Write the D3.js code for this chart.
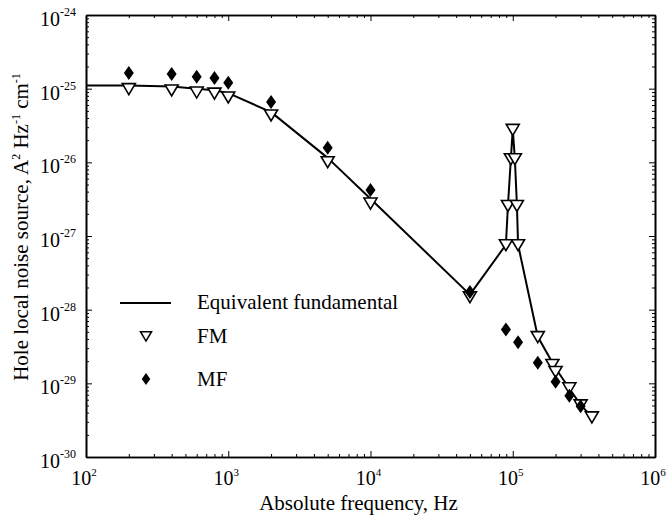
<!DOCTYPE html>
<html>
<head>
<meta charset="utf-8">
<title>Hole local noise source</title>
<style>
  body { margin: 0; background: #fff; overflow: hidden; }
  svg { display: block; }
</style>
</head>
<body>
<svg id="main" width="666" height="519" font-family="'Liberation Serif', 'DejaVu Serif', serif"></svg>
<script src="https://cdn.jsdelivr.net/npm/d3@7.8.5/dist/d3.min.js"></script>
<script>
  const xTickExps = [2, 3, 4, 5, 6]
  const yTickExps = [-30, -29, -28, -27, -26, -25, -24]

  // Equivalent fundamental (solid line)
  const lineFreq = [100, 200, 400, 600, 800, 1000, 2000, 5000, 1e4, 5e4,
    8.95e4, 9.25e4, 9.7e4, 1.0e5, 1.035e5, 1.07e5, 1.09e5, 1.5e5, 2e5, 2.5e5, 3e5, 3.6e5]
  const lineVal = [1.1e-25, 1.1e-25, 1.07e-25, 1.0e-25, 9.5e-26, 8.7e-26, 4.8e-26, 1.15e-26, 3.2e-27, 1.6e-28,
    7.6e-28, 2.6e-27, 1.12e-26, 2.8e-26, 1.12e-26, 2.6e-27, 7.6e-28, 4.3e-29, 1.6e-29, 8.5e-30, 5.1e-30, 3.5e-30]

  // FM (open down triangles)
  const fmFreq = [200, 400, 600, 800, 1000, 2000, 5000, 1e4, 5e4,
    8.95e4, 9.25e4, 9.7e4, 1.0e5, 1.035e5, 1.07e5, 1.09e5, 1.5e5, 1.9e5, 2e5, 2.5e5, 3e5, 3.6e5]
  const fmVal = [1.0e-25, 9.6e-26, 9.0e-26, 8.7e-26, 7.7e-26, 4.4e-26, 1.02e-26, 2.8e-27, 1.5e-28,
    7.6e-28, 2.6e-27, 1.12e-26, 2.8e-26, 1.12e-26, 2.6e-27, 7.6e-28, 4.3e-29, 1.8e-29, 1.45e-29, 8.7e-30, 5.1e-30, 3.5e-30]

  // MF (filled diamonds)
  const mfFreq = [200, 400, 600, 800, 1000, 2000, 5000, 1e4, 5e4, 8.95e4, 1.09e5, 1.5e5, 2e5, 2.5e5, 3e5]
  const mfVal = [1.63e-25, 1.58e-25, 1.45e-25, 1.4e-25, 1.2e-25, 6.6e-26, 1.58e-26, 4.2e-27, 1.74e-28,
    5.4e-29, 3.6e-29, 1.9e-29, 1.05e-29, 6.8e-30, 4.9e-30]

  const legendLabels = ['Equivalent fundamental', 'FM', 'MF']

  const svg = d3.select('#main')
  const margin = { top: 15, right: 11, bottom: 62, left: 86 }
  const width = +svg.attr('width')
  const height = +svg.attr('height')
  const innerWidth = width - margin.left - margin.right
  const innerHeight = height - margin.top - margin.bottom

  const g = svg.append('g').attr('transform', `translate(${margin.left}, ${margin.top})`)

  const xScale = d3.scaleLog().domain([1e2, 1e6]).range([0, innerWidth])
  const yScale = d3.scaleLog().domain([1e-30, 1e-24]).range([innerHeight, 0])

  const minorTicks = (lo, hi) => {
    const out = []
    for (let e = lo; e < hi; e++) for (let m = 2; m <= 9; m++) out.push(m * Math.pow(10, e))
    return out
  }
  const xMajor = xTickExps.map(e => Math.pow(10, e))
  const yMajor = yTickExps.map(e => Math.pow(10, e))
  const xMinor = minorTicks(2, 6)
  const yMinor = minorTicks(-30, -24)

  const styleAxis = sel => {
    sel.select('.domain').attr('stroke', '#000').attr('stroke-width', 1.6)
    sel.selectAll('.tick line').attr('stroke', '#000').attr('stroke-width', 1)
    sel.selectAll('.tick text').remove()
  }

  // ticks point inward on all four sides
  const axes = [
    [d3.axisBottom(xScale), xMajor, xMinor, `translate(0, ${innerHeight})`],
    [d3.axisTop(xScale), xMajor, xMinor, 'translate(0, 0)'],
    [d3.axisLeft(yScale), yMajor, yMinor, 'translate(0, 0)'],
    [d3.axisRight(yScale), yMajor, yMinor, `translate(${innerWidth}, 0)`]
  ]
  axes.forEach(([ax, major, minor, tr]) => {
    g.append('g').attr('transform', tr)
      .call(ax.tickValues(minor).tickSize(-3).tickSizeOuter(0).tickFormat(''))
      .call(styleAxis)
    g.append('g').attr('transform', tr)
      .call(ax.tickValues(major).tickSize(-6).tickSizeOuter(0).tickFormat(''))
      .call(styleAxis)
  })

  // tick labels with superscript exponents
  const xl = g.append('g').selectAll('text').data(xTickExps).join('text')
    .attr('x', d => xScale(Math.pow(10, d)) - 2)
    .attr('y', innerHeight + 28)
    .attr('text-anchor', 'middle')
    .attr('font-size', 20)
  xl.append('tspan').text('10')
  xl.append('tspan').attr('font-size', 11).attr('dy', -9).text(d => d)

  const yl = g.append('g').selectAll('text').data(yTickExps).join('text')
    .attr('x', -10)
    .attr('y', d => yScale(Math.pow(10, d)) + 11)
    .attr('text-anchor', 'end')
    .attr('font-size', 20)
  yl.append('tspan').text('10')
  yl.append('tspan').attr('font-size', 12).attr('dy', -10).text(d => d)

  // axis titles
  g.append('text')
    .attr('x', innerWidth / 2 - 12)
    .attr('y', innerHeight + 53)
    .attr('text-anchor', 'middle')
    .attr('font-size', 21)
    .text('Absolute frequency, Hz')

  const yt = svg.append('text')
    .attr('transform', 'translate(28, 227) rotate(-90)')
    .attr('text-anchor', 'middle')
    .attr('font-size', 21)
  yt.append('tspan').text('Hole local noise source, A')
  yt.append('tspan').attr('font-size', 12).attr('dy', -8).text('2')
  yt.append('tspan').attr('dy', 8).text(' Hz')
  yt.append('tspan').attr('font-size', 12).attr('dy', -8).text('-1')
  yt.append('tspan').attr('dy', 8).text(' cm')
  yt.append('tspan').attr('font-size', 12).attr('dy', -8).text('-1')

  // line
  const lineData = lineFreq.map((f, i) => ({ f, v: lineVal[i] }))
  const line = d3.line().x(d => xScale(d.f)).y(d => yScale(d.v))
  g.append('path').datum(lineData)
    .attr('d', line)
    .attr('fill', 'none')
    .attr('stroke', '#000')
    .attr('stroke-width', 2)
    .attr('stroke-linejoin', 'round')

  const triPath = 'M-6.5,-5L6.5,-5L0,6Z'
  const diaPath = 'M0,-7L5,0L0,7L-5,0Z'

  const fmData = fmFreq.map((f, i) => ({ f, v: fmVal[i] }))
  g.selectAll('.fm').data(fmData).join('path')
    .attr('class', 'fm')
    .attr('transform', d => `translate(${xScale(d.f)}, ${yScale(d.v)})`)
    .attr('d', triPath)
    .attr('fill', '#fff')
    .attr('stroke', '#000')
    .attr('stroke-width', 1.6)

  const mfData = mfFreq.map((f, i) => ({ f, v: mfVal[i] }))
  g.selectAll('.mf').data(mfData).join('path')
    .attr('class', 'mf')
    .attr('transform', d => `translate(${xScale(d.f)}, ${yScale(d.v)})`)
    .attr('d', diaPath)
    .attr('fill', '#000')

  // legend
  const lg = svg.append('g')
  lg.append('line').attr('x1', 120).attr('x2', 171).attr('y1', 303).attr('y2', 303)
    .attr('stroke', '#000').attr('stroke-width', 2)
  lg.append('path').attr('transform', 'translate(146, 336) scale(0.85)').attr('d', triPath)
    .attr('fill', '#fff').attr('stroke', '#000').attr('stroke-width', 1.8)
  lg.append('path').attr('transform', 'translate(146, 379) scale(0.85)').attr('d', diaPath)
    .attr('fill', '#000')
  lg.selectAll('text').data(legendLabels).join('text')
    .attr('x', 197)
    .attr('y', (d, i) => [309, 343, 386][i])
    .attr('font-size', 21)
    .text(d => d)
</script>
</body>
</html>
